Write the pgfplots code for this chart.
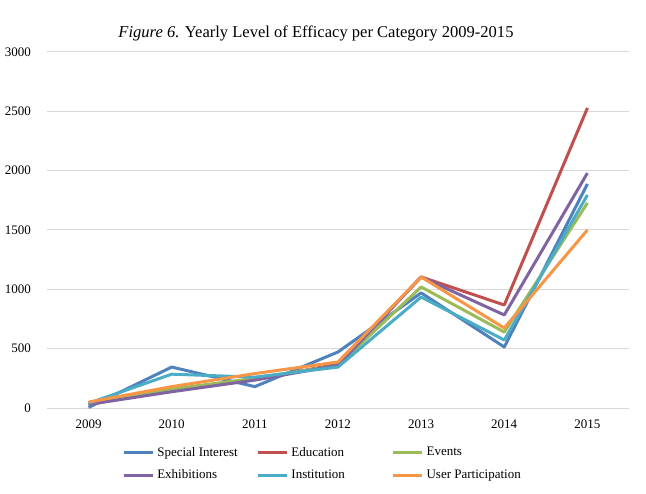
\documentclass[border=0pt]{standalone}
\usepackage{pgfplots}
\pgfplotsset{compat=1.18}
\usepackage{fontspec}
\setmainfont{Liberation Serif}
\definecolor{cSI}{HTML}{4F81BD}
\definecolor{cEd}{HTML}{C0504D}
\definecolor{cEv}{HTML}{9BBB59}
\definecolor{cEx}{HTML}{8064A2}
\definecolor{cIn}{HTML}{4BACC6}
\definecolor{cUP}{HTML}{F79646}
\definecolor{gridc}{HTML}{D9D9D9}
\begin{document}
\begin{tikzpicture}
\useasboundingbox[fill=white] (0pt,0pt) rectangle (484.5pt,369.75pt);
\node[font=\fontsize{12.4}{14}\selectfont] at (237pt,345pt) {\textit{Figure 6.} Yearly Level of Efficacy per Category 2009-2015};
\begin{axis}[
  at={(35.25pt,63.75pt)}, anchor=south west,
  scale only axis, width=436.5pt, height=267pt,
  xmin=2008.5, xmax=2015.5, ymin=0, ymax=3000,
  xtick={2009,...,2015}, ytick={0,500,...,3000},
  /pgf/number format/assume math mode=true,
  xticklabel style={/pgf/number format/1000 sep={}, yshift=-5pt},
  yticklabel style={/pgf/number format/1000 sep={}, xshift=-8.5pt},
  tick label style={font=\fontsize{9.75}{12}\selectfont},
  major tick length=0pt,
  axis x line*=bottom, axis y line*=left,
  x axis line style={gridc, line width=0.75pt, -},
  y axis line style={draw=none},
  ymajorgrids, grid style={gridc, line width=0.75pt},
  legend columns=3,
  legend cell align=left,
  legend style={draw=none, at={(0.474,-0.157)}, anchor=center,
    font=\fontsize{9.75}{12}\selectfont, row sep=4.5pt,
    /tikz/column 2/.style={column sep=12pt},
    /tikz/column 4/.style={column sep=33pt}},
  legend image code/.code={\draw[#1] (0pt,0pt) -- (22pt,0pt);},
  every axis plot/.append style={line width=2.25pt, line join=round},
]
\addplot[cSI] coordinates {(2009,5) (2010,345) (2011,180) (2012,472) (2013,970) (2014,514) (2015,1888)};
\addlegendentry{Special Interest}
\addplot[cEd] coordinates {(2009,30) (2010,150) (2011,240) (2012,370) (2013,1104) (2014,868) (2015,2528)};
\addlegendentry{Education}
\addplot[cEv] coordinates {(2009,40) (2010,160) (2011,250) (2012,360) (2013,1020) (2014,640) (2015,1728)};
\addlegendentry{Events}
\addplot[cEx] coordinates {(2009,30) (2010,137) (2011,235) (2012,360) (2013,1104) (2014,784) (2015,1980)};
\addlegendentry{Exhibitions}
\addplot[cIn] coordinates {(2009,40) (2010,285) (2011,260) (2012,345) (2013,935) (2014,573) (2015,1795)};
\addlegendentry{Institution}
\addplot[cUP] coordinates {(2009,50) (2010,180) (2011,290) (2012,388) (2013,1104) (2014,674) (2015,1500)};
\addlegendentry{User Participation}
\end{axis}
\end{tikzpicture}
\end{document}
